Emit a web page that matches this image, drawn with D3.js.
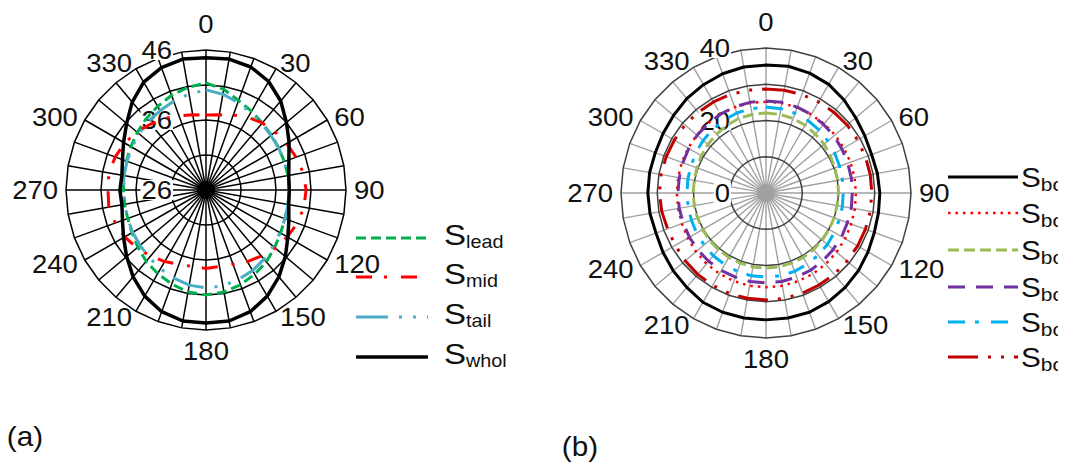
<!DOCTYPE html>
<html><head><meta charset="utf-8">
<script src="https://cdn.jsdelivr.net/npm/d3@7/dist/d3.min.js"></script>
<style>
body{margin:0;background:#fff}
svg{display:block}
text{font-family:"Liberation Sans",Arial,sans-serif;fill:#111}
</style>
</head><body>
<svg id="chart" width="1067" height="463"></svg>
<script>
// ---------- data ----------
const angles = [0,10,20,30,40,50,60,70,80,90,100,110,120,130,140,150,160,170,
                180,190,200,210,220,230,240,250,260,270,280,290,300,310,320,330,340,350];
const angleLabels = [0,30,60,90,120,150,180,210,240,270,300,330];

// (a)
const leftTicks = [26,36,46];
const leftRings = [31,36,41,46];
const leftNames = ["lead","mid","tail","whole"];
const leadVals  = [41.3,40.6,39.6,39.0,38.5,38.2,38.0,37.9,37.9,37.9,37.9,38.0,38.3,38.8,39.4,39.9,40.4,40.8,
                   41.0,40.8,40.3,39.8,39.3,38.7,38.2,37.9,37.8,37.8,37.9,38.1,38.4,38.8,39.3,39.8,40.4,40.9];
const midVals   = [36.7,36.9,37.4,38.0,38.5,38.9,39.3,39.7,40.1,40.3,40.2,39.9,39.4,38.9,38.3,37.8,37.3,37.1,
                   37.2,37.1,37.3,37.8,38.3,38.9,39.4,39.8,40.1,40.0,40.1,39.8,39.4,38.9,38.3,37.8,37.3,36.9];
const tailVals  = [40.3,39.9,39.3,38.8,38.4,38.1,38.0,37.9,37.9,37.9,37.9,38.0,38.2,38.5,38.9,39.3,39.6,39.9,
                   40.0,39.8,39.4,39.0,38.6,38.3,38.1,37.9,37.8,37.8,37.9,38.0,38.2,38.5,38.8,39.1,39.5,39.9];
const wholeVals = [44.9,45.0,44.7,43.9,42.6,41.0,39.7,38.6,38.0,37.9,38.0,38.6,39.5,40.8,42.2,43.5,44.5,45.0,
                   45.0,45.0,44.5,43.5,42.2,40.8,39.6,38.7,38.2,38.3,38.2,38.7,39.6,40.8,42.4,43.8,44.6,45.0];

// (b)
const rightTicks = [0,20,40];
const rightRings = [10,20,30,40];
const rightNames = ["body1","body2","body3","body4","body5","body6"];
const body1Vals = [35.3,35.5,35.2,34.6,33.5,32.3,31.5,31.0,31.2,31.4,31.5,31.8,32.5,33.3,34.0,34.6,35.0,35.0,
                   35.0,35.0,35.0,34.8,34.0,33.4,32.8,32.3,32.5,32.6,32.6,32.5,32.8,33.3,34.0,34.5,35.0,35.3];
const body2Vals = [25.2,25.2,25.1,25.0,24.9,24.9,24.8,24.8,24.8,24.8,24.9,25.0,25.2,25.4,25.6,25.8,25.9,26.0,
                   26.0,26.0,25.9,25.7,25.5,25.2,24.9,24.7,24.6,24.6,24.6,24.7,24.8,24.9,25.0,25.1,25.2,25.2];
const body3Vals = [22.1,22.0,21.9,21.6,21.2,20.9,20.5,20.2,20.1,20.0,19.9,20.0,20.1,20.2,20.4,20.5,20.6,20.7,
                   20.7,20.7,20.6,20.5,20.4,20.3,20.2,20.1,20.1,20.1,20.1,20.3,20.6,20.9,21.2,21.6,21.9,22.0];
const body4Vals = [25.4,25.4,25.2,25.0,24.7,24.5,24.2,24.0,23.9,23.8,23.9,23.9,24.1,24.2,24.4,24.6,24.7,24.8,
                   24.8,24.8,24.7,24.7,24.6,24.5,24.4,24.3,24.3,24.3,24.3,24.4,24.6,24.8,24.9,25.1,25.3,25.4];
const body5Vals = [23.7,23.6,23.4,23.1,22.7,22.3,21.9,21.6,21.4,21.3,21.4,21.5,21.8,22.1,22.4,22.7,23.0,23.2,
                   23.2,23.2,23.0,22.8,22.6,22.3,22.1,21.9,21.8,21.8,21.9,22.0,22.3,22.6,22.9,23.2,23.5,23.6];
const body6Vals = [28.7,28.8,28.9,29.0,29.1,29.2,29.2,29.2,29.2,29.2,29.2,29.2,29.2,29.2,29.3,29.3,29.4,29.5,
                   29.5,29.5,29.5,29.4,29.3,29.1,28.9,28.9,29.2,29.4,29.4,29.3,29.2,29.2,29.1,29.0,28.9,28.8];

// ---------- drawing ----------
const svg = d3.select("#chart");
const defs = svg.append("defs");
const rad = a => a * Math.PI / 180;
const SX = 1.1; // horizontal text stretch

function stretchedText(g, str, size, x, y, anchor){
  return g.append("text").attr("font-size", size).attr("text-anchor", anchor || "middle")
    .attr("transform", `translate(${x},${y}) scale(${SX},1)`).text(str);
}

function drawPolar(o){
  const root = svg.append("g");
  const id = "clip" + o.key;
  defs.append("clipPath").attr("id", id)
    .append("rect").attr("x", o.clipX0).attr("y", 0).attr("width", o.clipX1 - o.clipX0).attr("height", 463);
  root.attr("clip-path", `url(#${id})`);

  const g = root.append("g").attr("transform", `translate(${o.cx},${o.cy})`);
  const r = d3.scaleLinear().domain(o.domain).range([0, o.R]);

  // spokes
  g.append("g").selectAll("line").data(angles).join("line")
    .attr("x1",0).attr("y1",0)
    .attr("x2", a => Math.sin(rad(a)) * o.R)
    .attr("y2", a => -Math.cos(rad(a)) * o.R)
    .attr("stroke", o.spokeColor).attr("stroke-width", o.spokeW);
  // dense hub where the spokes merge
  g.append("circle").attr("r", o.hubR).attr("fill", o.spokeColor);

  // rings (polygonal, one vertex per category)
  g.append("g").selectAll("path").data(o.rings).join("path")
    .attr("d", v => d3.lineRadial().angle(a => rad(a)).radius(() => r(v)).curve(d3.curveLinearClosed)(angles))
    .attr("fill","none").attr("stroke", o.ringColor).attr("stroke-width", o.ringW);

  // value labels with white backing
  const tl = g.append("g");
  o.ticks.forEach(v => {
    const t = stretchedText(tl, String(v), 25, -o.labOff, -r(v) + 9, "end");
    const w = t.node().getComputedTextLength() * SX;
    tl.insert("rect","text").attr("x", -o.labOff - w - 1).attr("y", -r(v) - 10)
      .attr("width", w + 2).attr("height", 20).attr("fill","#fff");
  });

  // angle labels
  const al = g.append("g");
  angleLabels.forEach(a => {
    const s = Math.sin(rad(a)), c = Math.cos(rad(a));
    const t = stretchedText(al, String(a), 25, 0, 0, "middle");
    const hw = t.node().getComputedTextLength() * SX / 2;
    const sx = Math.abs(s) < 0.01 ? 0 : Math.sign(s);
    const x = s * (o.R + 8) + sx * hw;
    let y = -c * (o.R + 7);
    if (Math.abs(c) > 0.99) y -= Math.sign(c) * (c > 0 ? 19 : 14);
    t.attr("transform", `translate(${x},${y + 9}) scale(${SX},1)`);
  });

  // series
  const line = d3.lineRadial().angle((d,i) => rad(angles[i])).radius(d => r(d)).curve(d3.curveLinearClosed);
  g.append("g").selectAll("path").data(o.series).join("path")
    .attr("d", s => line(s.values))
    .attr("fill","none").attr("stroke", s => s.color).attr("stroke-width", s => s.width)
    .attr("stroke-dasharray", s => s.dash).attr("stroke-linejoin","round");

  // legend
  const lg = root.append("g");
  o.series.forEach((s, i) => {
    const y = o.legY[i];
    lg.append("line").attr("x1", o.legX1).attr("x2", o.legX2).attr("y1", y).attr("y2", y)
      .attr("stroke", s.color).attr("stroke-width", s.width).attr("stroke-dasharray", s.dash);
    const t = lg.append("text").attr("font-size", o.legS)
      .attr("transform", `translate(${o.legTX},${y + o.legSdy}) scale(${SX},1)`);
    t.append("tspan").text("S");
    t.append("tspan").attr("font-size", o.legSub).attr("dy", o.legSubDy).text(s.name);
  });
}

drawPolar({
  key:"a", cx:206, cy:190, R:140, domain:[26,46], rings:leftRings, ticks:leftTicks, labOff:34,
  spokeColor:"#000", spokeW:1.5, hubR:9, ringColor:"#000", ringW:1.5, clipX0:0, clipX1:506,
  series:[
    {name:leftNames[0], values:leadVals,  color:"#00b050", width:3,   dash:"10,5"},
    {name:leftNames[1], values:midVals,   color:"#ff0000", width:3,   dash:"16,12,3,14"},
    {name:leftNames[2], values:tailVals,  color:"#4bacc6", width:3,   dash:"32,11,3,11,3,11"},
    {name:leftNames[3], values:wholeVals, color:"#000000", width:3.5, dash:null}
  ],
  legY:[238,277,317,357], legX1:356, legX2:428, legTX:444, legS:30, legSdy:7, legSub:18, legSubDy:3
});

drawPolar({
  key:"b", cx:766, cy:193, R:145, domain:[0,40], rings:rightRings, ticks:rightTicks, labOff:36,
  spokeColor:"#a0a0a0", spokeW:1.4, hubR:9, ringColor:"#404040", ringW:1.5, clipX0:506, clipX1:1058,
  series:[
    {name:rightNames[0], values:body1Vals, color:"#000000", width:3, dash:null},
    {name:rightNames[1], values:body2Vals, color:"#ff0000", width:2.5, dash:"2.5,5"},
    {name:rightNames[2], values:body3Vals, color:"#9bbb59", width:3, dash:"11,5"},
    {name:rightNames[3], values:body4Vals, color:"#7030a0", width:3, dash:"17,11"},
    {name:rightNames[4], values:body5Vals, color:"#00b0f0", width:3, dash:"17,10,4,12"},
    {name:rightNames[5], values:body6Vals, color:"#c00000", width:3, dash:"30,10,3,10,3,10"}
  ],
  legY:[177,213,250,287,322,357], legX1:948, legX2:1018, legTX:1021, legS:27, legSdy:10, legSub:19, legSubDy:4
});

// panel tags
stretchedText(svg, "(a)", 27, 25, 446, "middle");
stretchedText(svg, "(b)", 27, 580, 456, "middle");
</script>
</body></html>
